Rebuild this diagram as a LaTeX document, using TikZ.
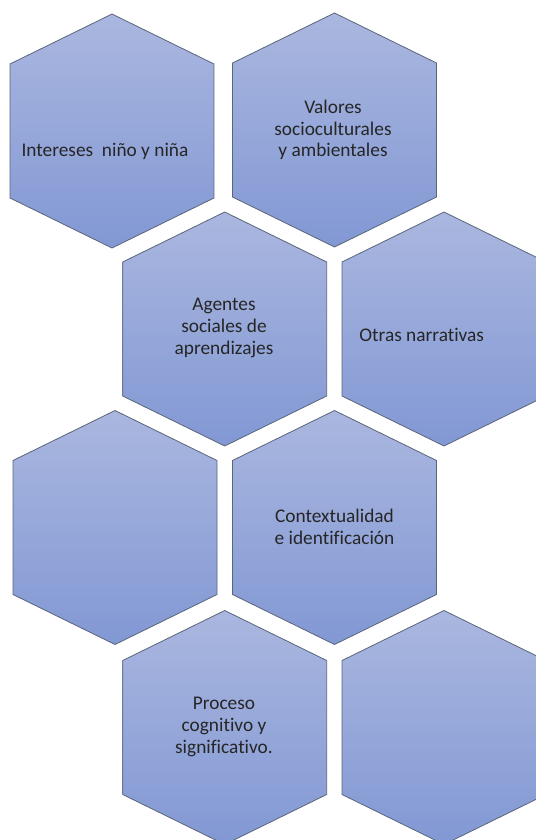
\documentclass[tikz,border=0pt]{standalone}
\usepackage{fontspec}
\setmainfont[Ligatures={NoCommon}]{Carlito}
\definecolor{hextop}{RGB}{170,183,223}
\definecolor{hexbot}{RGB}{130,152,212}
\definecolor{hexline}{RGB}{90,100,122}
\tikzset{
  hexcell/.style={top color=hextop,bottom color=hexbot,draw=hexline,line width=0.6pt},
  hexlabel/.style={align=center,font=\fontsize{14.5}{16.3}\selectfont,text=black!85,inner sep=0pt}
}
\newcommand\hexat[2]{\path[hexcell] (#1,#2-117) -- (#1+102,#2-67) -- (#1+102,#2+67) -- (#1,#2+117) -- (#1-102,#2+67) -- (#1-102,#2-67) -- cycle;}
\begin{document}
\begin{tikzpicture}[x=0.75pt,y=-0.75pt]
\useasboundingbox (0,0) rectangle (536,840);
\clip (0,0) rectangle (536,840);
\hexat{112}{131}
\hexat{334.5}{130}
\hexat{224.7}{329}
\hexat{444}{329}
\hexat{115}{527.5}
\hexat{334.5}{527.5}
\hexat{224.7}{727.5}
\hexat{444}{727.5}
\node[hexlabel] (t1) at (105,151) {Intereses \ niño y niña};
\node[hexlabel] (t2) at (333,130) {Valores\\socioculturales\\y ambientales};
\node[hexlabel] (t3) at (224,328) {Agentes\\sociales de\\aprendizajes};
\node[hexlabel] (t4) at (421.7,335) {Otras narrativas};
\node[hexlabel] (t6) at (334.5,527) {Contextualidad\\e identificación};
\node[hexlabel] (t7) at (224,727) {Proceso\\cognitivo y\\significativo.};
\end{tikzpicture}
\end{document}
